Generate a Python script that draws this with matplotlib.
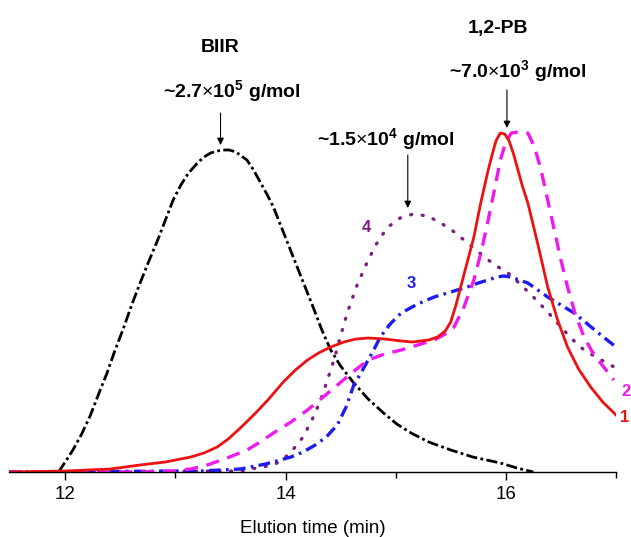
import matplotlib
matplotlib.use("Agg")
import matplotlib.pyplot as plt

plt.rcParams['font.family'] = ['Liberation Sans', 'DejaVu Sans']
plt.rcParams['mathtext.fontset'] = 'custom'
plt.rcParams['mathtext.rm'] = 'Liberation Sans'
plt.rcParams['mathtext.bf'] = 'Liberation Sans:bold'

# Curve 0: BIIR (black)
t_biir = [11.94, 12.00, 12.07, 12.15, 12.23, 12.30, 12.38, 12.45, 12.53, 12.60, 12.68, 12.76, 12.84,
          12.91, 12.98, 13.05, 13.12, 13.20, 13.26, 13.32, 13.38, 13.43, 13.49, 13.55, 13.60, 13.65,
          13.71, 13.77, 13.83, 13.89, 13.98, 14.07, 14.16, 14.25, 14.33, 14.41, 14.50, 14.62, 14.75,
          14.89, 15.01, 15.14, 15.30, 15.50, 15.70, 15.95, 16.10, 16.25]
i_biir = [0, 10, 22, 38, 57, 77, 99, 121, 144, 166, 189, 211, 232,
          252, 272, 287, 299, 309, 315, 319, 321, 322, 322, 320, 316, 312,
          302, 290, 278, 265, 240, 215, 190, 165, 142, 122, 106, 89, 73,
          59, 48, 39, 30, 22, 15, 9, 4, 0]

# Curve 1 (red, solid)
t_1 = [11.49, 12.00, 12.41, 12.68, 12.91, 13.14, 13.26, 13.38, 13.48, 13.59, 13.72, 13.84, 13.91,
       13.98, 14.09, 14.20, 14.30, 14.41, 14.53, 14.64, 14.75, 14.90, 15.05, 15.15, 15.23, 15.30,
       15.38, 15.45, 15.50, 15.55, 15.59, 15.65, 15.71, 15.77, 15.84, 15.88, 15.91, 15.95, 15.99,
       16.03, 16.07, 16.11, 16.15, 16.20, 16.29, 16.38, 16.47, 16.56, 16.66, 16.77, 16.88, 17.00]
i_1 = [0, 1, 3, 7, 10, 15, 19, 25, 33, 44, 58, 72, 81,
       90, 102, 112, 119, 125, 130, 133, 134, 133, 131, 130, 131, 132,
       135, 141, 150, 168, 185, 210, 235, 268, 302, 319, 331, 339, 338,
       331, 318, 302, 286, 269, 228, 185, 152, 125, 103, 85, 70, 57]

# Curve 2 (magenta, dashed)
t_2 = [11.49, 12.68, 12.98, 13.14, 13.29, 13.47, 13.65, 13.77, 13.89, 14.05, 14.20, 14.32, 14.44,
       14.60, 14.75, 14.90, 15.05, 15.20, 15.35, 15.45, 15.53, 15.62, 15.71, 15.78, 15.84, 15.90,
       15.95, 16.00, 16.05, 16.11, 16.20, 16.26, 16.32, 16.38, 16.44, 16.50, 16.56, 16.63, 16.71,
       16.78, 16.86, 16.98]
i_2 = [0, 0, 1, 3, 7, 14, 22, 30, 39, 50, 62, 73, 84,
       99, 112, 118, 122, 127, 132, 138, 145, 165, 192, 222, 252, 284,
       312, 330, 339, 340, 339, 325, 302, 272, 242, 212, 185, 158, 135,
       121, 109, 92]

# Curve 3 (blue, dash-dot)
t_3 = [11.49, 13.23, 13.59, 13.82, 14.05, 14.16, 14.27, 14.37, 14.47, 14.55, 14.62, 14.69, 14.75,
       14.81, 14.86, 14.95, 15.05, 15.20, 15.35, 15.50, 15.65, 15.75, 15.84, 15.92, 15.98, 16.05,
       16.12, 16.20, 16.29, 16.38, 16.50, 16.62, 16.73, 16.84, 17.00]
i_3 = [0, 1, 3, 8, 15, 20, 27, 35, 47, 65, 87, 100, 112,
       124, 135, 148, 159, 168, 175, 180, 185, 189, 192, 195, 196, 195,
       192, 189, 182, 175, 167, 159, 149, 139, 125]

# Curve 4 (purple, dotted)
t_4 = [11.49, 13.59, 13.89, 13.97, 14.05, 14.16, 14.24, 14.32, 14.38, 14.44, 14.50, 14.56, 14.65,
       14.75, 14.84, 14.93, 15.04, 15.16, 15.29, 15.41, 15.52, 15.62, 15.73, 15.84, 15.93, 16.02,
       16.13, 16.25, 16.38, 16.50, 16.60, 16.71, 16.85, 17.00]
i_4 = [0, 1, 7, 12, 20, 35, 52, 72, 92, 112, 136, 159, 187,
       212, 231, 245, 254, 258, 256, 249, 241, 232, 222, 212, 205, 199,
       188, 175, 160, 145, 133, 122, 113, 104]

major_ticks = [12, 14, 16]
minor_ticks = [13, 15, 17]

fig = plt.figure(figsize=(6.31, 5.37), dpi=100)
ax = fig.add_axes([9/631, 1 - 472/537, (616-9)/631, 472/537])
ax.set_xlim(11.49, 17.0)
ax.set_ylim(0, 472)

ax.plot(t_biir, i_biir, color='black', lw=2.0, linestyle=(0, (4, 1.2, 1, 1.2)))
ax.plot(t_4, i_4, color='#7b1f7f', lw=2.4, linestyle=(0, (0.3, 3.2)), dash_capstyle='round')
ax.plot(t_3, i_3, color='#1c1cf0', lw=2.4, linestyle=(0, (3.5, 1.6, 0.8, 1.6)))
ax.plot(t_2, i_2, color='#ee1aee', lw=2.4, linestyle=(0, (4, 2.6)))
ax.plot(t_1, i_1, color='#ee1111', lw=2.0)

for s in ['left', 'right', 'top']:
    ax.spines[s].set_visible(False)
ax.spines['bottom'].set_linewidth(1.0)
ax.set_yticks([])
ax.set_xticks(major_ticks)
ax.set_xticks(minor_ticks, minor=True)
ax.tick_params(axis='x', which='major', length=6, width=1, direction='out', labelsize=13.5, pad=4)
ax.tick_params(axis='x', which='minor', length=4, width=1, direction='out')
ax.set_xlabel('Elution time (min)', fontsize=13.5, labelpad=12)

bold = dict(fontweight='bold', fontsize=14, ha='center', va='center')
ax.text(13.41, 424, 'BIIR', **bold)
ax.text(13.51, 380, r'~2.7$\times$10$^{\mathbf{5}}$ g/mol', **bold)
ax.text(15.93, 443, '1,2-PB', **bold)
ax.text(16.11, 400, r'~7.0$\times$10$^{\mathbf{3}}$ g/mol', **bold)
ax.text(14.91, 332, r'~1.5$\times$10$^{\mathbf{4}}$ g/mol', **bold)

arrow = dict(arrowstyle='-|>', lw=0.8, color='black', mutation_scale=10, shrinkA=0, shrinkB=0)
ax.annotate('', xy=(13.41, 327), xytext=(13.41, 359), arrowprops=arrow)
ax.annotate('', xy=(16.01, 344), xytext=(16.01, 382), arrowprops=arrow)
ax.annotate('', xy=(15.11, 264), xytext=(15.11, 317), arrowprops=arrow)

lab = dict(fontweight='bold', fontsize=12, ha='center', va='center', clip_on=False)
ax.text(17.08, 54, '1', color='#ee1111', **lab)
ax.text(17.09, 80, '2', color='#ee1aee', **lab)
ax.text(15.14, 189, '3', color='#1c1cf0', **lab)
ax.text(14.73, 245, '4', color='#7b1f7f', **lab)

fig.savefig('out.png', dpi=100)
